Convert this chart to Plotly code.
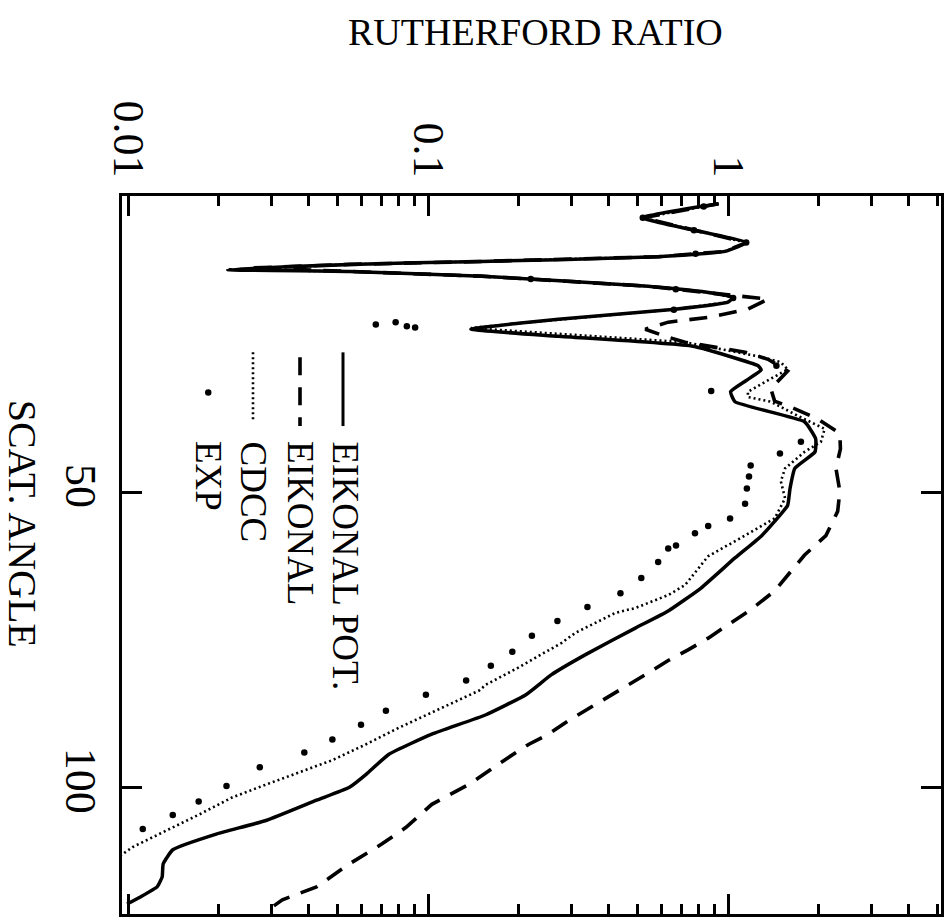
import plotly.graph_objects as go

# ---------------- data (angle in degrees, ratio to Rutherford) ----------------
ang_pot = [1.0, 3.4, 7.6, 9.1, 10.0, 10.5, 10.8, 11.3, 12.2, 12.5, 13.3, 15.0, 16.0, 16.9,
           17.7, 18.9, 20.6, 21.3, 22.3, 23.5, 25.2, 28.5, 29.2, 31.0, 32.9, 34.6, 38.0,
           40.9, 43.1, 45.9, 49.3, 52.2, 54.9, 57.4, 61.1, 66.2, 70.1, 73.0, 77.5, 80.9,
           84.3, 87.7, 91.0, 94.4, 97.8, 100.0, 102.2, 105.6, 107.9, 110.6, 113.0, 115.2,
           116.9, 118.6, 119.8]
rat_pot = [0.93, 0.52, 1.15, 0.977, 0.585, 0.272, 0.151, 0.0547, 0.0215, 0.0547, 0.151,
           0.542, 0.84, 1.04, 1.0, 0.667, 0.272, 0.20, 0.139, 0.272, 0.766, 1.26, 1.29,
           1.15, 1.02, 1.055, 1.80, 1.96, 1.95, 1.67, 1.61, 1.58, 1.43, 1.29, 1.055, 0.813,
           0.632, 0.491, 0.335, 0.258, 0.212, 0.156, 0.103, 0.0741, 0.0622, 0.0547, 0.0425,
           0.029, 0.0198, 0.0141, 0.0131, 0.0130, 0.0125, 0.011, 0.00993]

ang_eik = [1.0, 3.4, 7.6, 9.1, 10.0, 10.5, 10.8, 11.3, 11.9, 12.5, 13.3, 15.0, 16.0, 17.2,
           18.9, 20.3, 21.1, 22.3, 23.5, 24.5, 26.2, 27.4, 29.4, 32.4, 34.5, 35.5, 37.5,
           40.0, 42.6, 45.9, 49.8, 53.2, 57.3, 60.6, 66.7, 69.9, 72.1, 74.7, 76.7, 78.5,
           80.6, 82.6, 84.8, 86.8, 88.7, 91.0, 92.7, 94.9, 97.1, 99.5, 102.9, 106.8, 109.6,
           113.0, 116.9, 119.1, 120.3]
rat_eik = [0.93, 0.52, 1.15, 0.977, 0.585, 0.272, 0.151, 0.0547, 0.026, 0.055, 0.151,
           0.542, 0.84, 1.36, 1.165, 0.859, 0.632, 0.53, 0.618, 0.719, 1.14, 1.36, 1.58,
           1.39, 1.43, 1.62, 1.99, 2.36, 2.37, 2.29, 2.36, 2.32, 2.12, 1.80, 1.43, 1.19,
           1.023, 0.859, 0.736, 0.632, 0.542, 0.466, 0.399, 0.343, 0.294, 0.252, 0.217,
           0.186, 0.160, 0.137, 0.103, 0.0845, 0.0703, 0.0547, 0.0425, 0.0327, 0.0303]

ang_cdcc = [1.0, 3.4, 7.6, 9.1, 10.0, 10.5, 10.8, 11.3, 12.2, 12.5, 13.3, 15.0, 16.0, 16.9,
            17.7, 18.9, 20.6, 21.3, 22.1, 24.0, 24.5, 26.9, 27.9, 29.1, 30.7, 32.9, 33.8,
            34.6, 37.0, 39.2, 41.4, 43.1, 45.9, 48.1, 51.0, 54.4, 57.3, 60.8, 65.7, 67.4,
            69.6, 70.4, 73.8, 75.5, 79.7, 82.6, 83.6, 89.9, 92.7, 95.4, 99.5, 101.7, 104.6,
            107.3, 110.1, 111.5]
rat_cdcc = [0.93, 0.52, 1.15, 0.977, 0.585, 0.272, 0.151, 0.0547, 0.0215, 0.0547, 0.151,
            0.542, 0.84, 1.04, 1.0, 0.667, 0.272, 0.20, 0.139, 0.542, 0.719, 1.26, 1.50,
            1.58, 1.39, 1.165, 1.165, 1.39, 1.71, 2.10, 2.04, 1.80, 1.55, 1.50, 1.55, 1.43,
            1.14, 0.859, 0.719, 0.632, 0.491, 0.422, 0.310, 0.279, 0.200, 0.156, 0.148,
            0.080, 0.0622, 0.048, 0.029, 0.0223, 0.0173, 0.0135, 0.0104, 0.0095]

ang_exp = [1.5, 3.4, 5.5, 7.6, 9.5, 13.8, 15.5, 17.0, 19.0, 21.1, 21.5, 21.8, 22.0, 25.5,
           28.5, 32.8, 41.4, 43.4, 45.4, 47.3, 49.3, 51.9, 54.4, 55.7, 56.9, 59.0, 59.5,
           61.8, 64.5, 67.1, 69.4, 71.8, 74.3, 77.0, 79.4, 81.9, 84.3, 87.0, 89.4, 91.9,
           94.1, 96.6, 99.8, 102.4, 104.7, 107.1]
rat_exp = [0.83, 0.52, 0.77, 1.15, 0.78, 0.22, 0.67, 1.04, 0.66, 0.078, 0.067, 0.085,
           0.0906, 0.85, 1.45, 0.879, 1.75, 1.49, 1.19, 1.175, 1.156, 1.14, 1.016, 0.859,
           0.776, 0.671, 0.632, 0.585, 0.514, 0.438, 0.340, 0.270, 0.222, 0.191, 0.162,
           0.134, 0.0984, 0.0724, 0.0598, 0.048, 0.0387, 0.0275, 0.0213, 0.0172, 0.0141,
           0.0112]

ratio_ticks = [0.01, 0.1, 1]
ratio_labels = ["0.01", "0.1", "1"]
ratio_minor = [0.02, 0.03, 0.04, 0.05, 0.06, 0.07, 0.08, 0.09,
               0.2, 0.3, 0.4, 0.5, 0.6, 0.7, 0.8, 0.9, 2, 3, 4, 5]
angle_ticks = [50, 100]
legend_names = ["EIKONAL POT.", "EIKONAL", "CDCC", "EXP"]

FONT = "Liberation Serif, Times New Roman, serif"
DASH = "18px,12px"
DOT = "2px,3px"

fig = go.Figure()
fig.add_trace(go.Scatter(x=rat_eik, y=ang_eik, mode="lines",
                         line=dict(color="black", width=3.6, dash=DASH)))
fig.add_trace(go.Scatter(x=rat_cdcc, y=ang_cdcc, mode="lines",
                         line=dict(color="black", width=2.6, dash=DOT)))
fig.add_trace(go.Scatter(x=rat_pot, y=ang_pot, mode="lines", line_shape="spline",
                         line=dict(color="black", width=3.5, smoothing=0.4)))
fig.add_trace(go.Scatter(x=rat_exp, y=ang_exp, mode="markers",
                         marker=dict(color="black", size=6.5)))

L, R, T, B = 122, 9, 196, 5
W, H = 950, 922
PW, PH = W - L - R, H - T - B


def px(x):
    return (x - L) / PW


def py(y):
    return (H - B - y) / PH


axis_common = dict(showgrid=False, zeroline=False, showline=True, linewidth=3,
                   linecolor="black", mirror="ticks", ticks="inside", ticklen=20,
                   tickwidth=2.5, tickcolor="black",
                   tickfont=dict(family=FONT, size=44, color="black"))

fig.update_xaxes(type="log", range=[-2.02, 0.71], side="top", tickvals=ratio_ticks,
                 ticktext=ratio_labels, tickangle=90, ticklabelstandoff=0,
                 minor=dict(tickvals=ratio_minor, ticks="inside", ticklen=10,
                            tickwidth=2.5, tickcolor="black"),
                 **axis_common)
fig.update_yaxes(range=[121.5, -0.3], tickvals=angle_ticks, tickangle=90,
                 ticklabelstandoff=0, **axis_common)

shapes = []
# legend samples
shapes.append(dict(type="line", xref="paper", yref="paper", x0=px(343), x1=px(343),
                   y0=py(353), y1=py(427), line=dict(color="black", width=3)))
shapes.append(dict(type="line", xref="paper", yref="paper", x0=px(300), x1=px(300),
                   y0=py(358), y1=py(427), line=dict(color="black", width=3.6, dash=DASH)))
shapes.append(dict(type="line", xref="paper", yref="paper", x0=px(253), x1=px(253),
                   y0=py(353), y1=py(423), line=dict(color="black", width=2.6, dash=DOT)))
shapes.append(dict(type="circle", xref="paper", yref="paper", x0=px(205), x1=px(211.5),
                   y0=py(396.5), y1=py(390), fillcolor="black", line=dict(color="black", width=0)))

annotations = []
for name, xc in zip(legend_names, [346, 300, 254, 208]):
    annotations.append(dict(text=name, xref="paper", yref="paper", x=px(xc), y=py(440),
                            xanchor="center", yanchor="top", textangle=90, showarrow=False,
                            font=dict(family=FONT, size=37, color="black")))
annotations.append(dict(text="RUTHERFORD RATIO", xref="paper", yref="paper",
                        x=px(535), y=py(31), xanchor="center", yanchor="middle",
                        showarrow=False, font=dict(family=FONT, size=38, color="black")))
annotations.append(dict(text="SCAT. ANGLE", xref="paper", yref="paper",
                        x=px(22), y=py(525), xanchor="center", yanchor="middle",
                        textangle=90, showarrow=False,
                        font=dict(family=FONT, size=40, color="black")))

fig.update_layout(width=W, height=H, margin=dict(l=L, r=R, t=T, b=B),
                  paper_bgcolor="white", plot_bgcolor="white", showlegend=False,
                  shapes=shapes, annotations=annotations)

fig.write_html("out.html")
